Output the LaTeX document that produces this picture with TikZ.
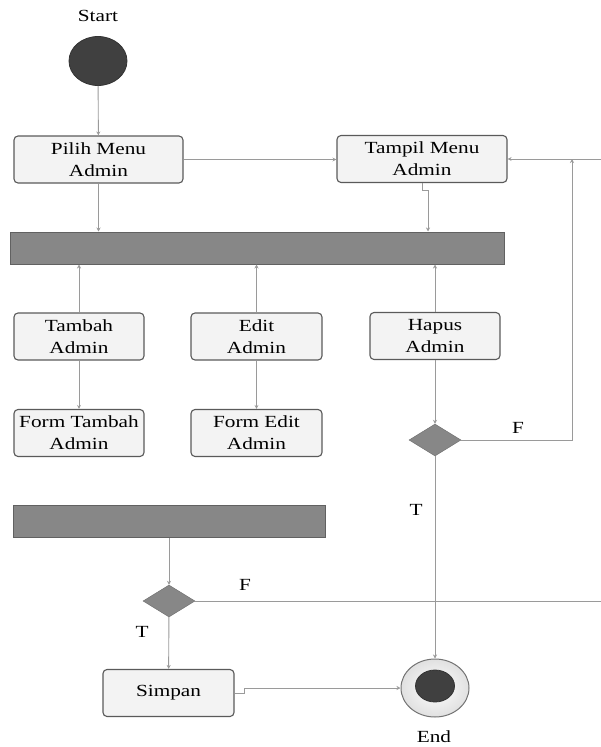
\documentclass[tikz,border=0pt]{standalone}
\usepackage{fontspec}
\setmainfont{Liberation Serif}[FakeStretch=1.25]
\usetikzlibrary{shapes.geometric,arrows.meta}
\definecolor{boxborder}{HTML}{5A5A5A}
\definecolor{boxfill}{HTML}{F3F3F3}
\definecolor{barfill}{HTML}{878787}
\definecolor{darkfill}{HTML}{404040}
\definecolor{linegray}{HTML}{9A9A9A}
\begin{document}
\begin{tikzpicture}[x=1pt,y=-1pt,
  every node/.style={font=\fontsize{17}{22}\selectfont},
  act/.style={draw=boxborder, line width=1.1pt, rounded corners=4pt, fill=boxfill, align=center, inner sep=0pt, minimum width=130pt, minimum height=47pt},
  barbox/.style={draw=black!62, line width=1pt, fill=barfill, minimum height=32pt, inner sep=0pt},
  decision/.style={diamond, fill=barfill, draw=barfill!80!black, line width=0.4pt, minimum width=52pt, minimum height=32pt, inner sep=0pt},
  conn/.style={draw=linegray, line width=0.9pt, -{Stealth[length=4pt,width=4pt]}},
  lbl/.style={inner sep=0pt}
]
\useasboundingbox (0,0) rectangle (600,747);
\node[lbl] (startlbl) at (98,16) {Start};
\node[ellipse, fill=darkfill, draw=black!80, line width=0.8pt, minimum width=58pt, minimum height=49pt, inner sep=0pt] (start) at (98,61) {};
\node[act, minimum width=169pt] (pilih) at (98.5,159.5) {Pilih Menu\\Admin};
\node[act, minimum width=170pt] (tampil) at (422,159) {Tampil Menu\\Admin};
\node[barbox, minimum width=494pt] (bar1) at (257,248) {};
\node[act] (tambah) at (79,336.5) {Tambah\\Admin};
\node[act, minimum width=131pt] (edit) at (256.5,336.5) {Edit\\Admin};
\node[act] (hapus) at (435,336) {Hapus\\Admin};
\node[act] (formtambah) at (79,433) {Form Tambah\\Admin};
\node[act, minimum width=131pt] (formedit) at (256.5,433) {Form Edit\\Admin};
\node[decision] (d1) at (435,440) {};
\node[barbox, minimum width=312pt] (bar2) at (169,521) {};
\node[decision] (d2) at (169,601) {};
\node[act, minimum width=131pt] (simpan) at (168.5,693) {Simpan};
\node[ellipse, draw=black!55, line width=1pt, inner color=white, outer color=black!12, minimum width=68pt, minimum height=58pt, inner sep=0pt] (endc) at (435,688) {};
\node[ellipse, fill=darkfill, draw=black!80, line width=0.8pt, minimum width=39pt, minimum height=32pt, inner sep=0pt] (endin) at (435,686) {};
\node[lbl] (endlbl) at (434,737) {End};
\node[lbl] (f1) at (518,428) {F};
\node[lbl] (t1) at (416,510) {T};
\node[lbl] (f2) at (245,585) {F};
\node[lbl] (t2) at (142,632) {T};
\coordinate (r1) at (572,159);
\coordinate (r2) at (608,601);
% connectors
\draw[conn] (start) -- (pilih);
\draw[conn] (pilih.south) -- (pilih.south |- bar1.north);
\draw[conn] (pilih.east) -- (pilih.east -| tampil.west);
\draw[conn] (tampil.south) -- ++(0,7) -| ([xshift=6pt]tampil.south |- bar1.north);
\draw[conn] (tambah.north) -- (tambah.north |- bar1.south);
\draw[conn] (edit.north) -- (edit.north |- bar1.south);
\draw[conn] (hapus.north) -- (hapus.north |- bar1.south);
\draw[conn] (tambah) -- (formtambah);
\draw[conn] (edit) -- (formedit);
\draw[conn] (hapus) -- (d1);
\draw[conn] (d1.east) -| (r1);
\draw[conn] (d2.east) -- (d2.east -| r2) |- (tampil.east);
\draw[conn] (d1.south) -- (endc.north);
\draw[conn] (bar2.south -| d2.north) -- (d2.north);
\draw[conn] (d2) -- (simpan);
\draw[conn] (simpan.east) -- ++(10,0) |- (endc.west);
\end{tikzpicture}
\end{document}
